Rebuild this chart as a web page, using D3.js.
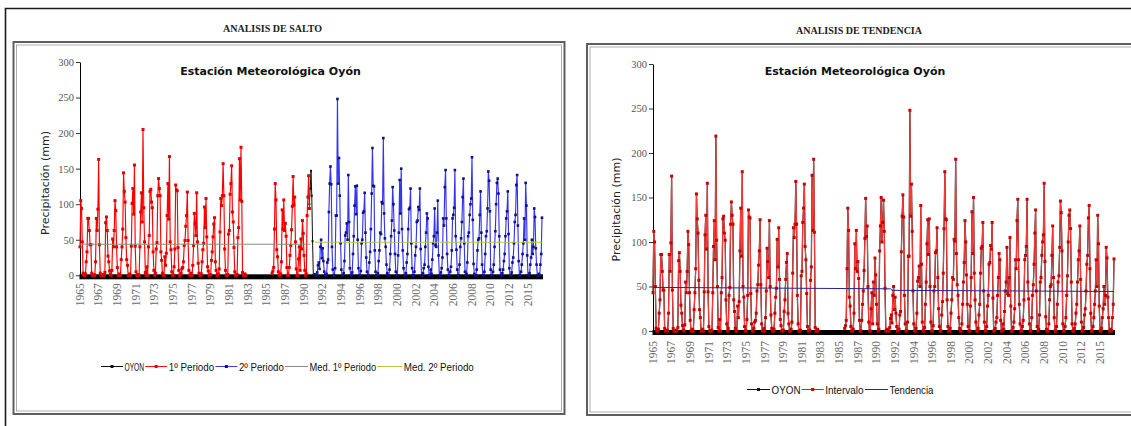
<!DOCTYPE html>
<html>
<head>
<meta charset="utf-8">
<script src="https://cdn.jsdelivr.net/npm/d3@7"></script>
<style>
  body { margin: 0; background: #fff; }
  svg { display: block; }
</style>
</head>
<body>
<svg id="lienzo" width="1131" height="426"></svg>
<script>
// Etiquetas del eje de categorías (una cada 24 registros mensuales)
const etiquetasAnio = ['1965','1967','1969','1971','1973','1975','1977','1979','1981','1983',
  '1985','1987','1990','1992','1994','1996','1998','2000','2002','2004','2006','2008','2010','2012','2015'];
const pasoEtiqueta = 24;
const marcasY = [0, 50, 100, 150, 200, 250, 300];

// Precipitación mensual registrada en la estación Oyón (mm); null = sin registro
const precipitacion = [
  43,112,100,50,3,0,0,2,20,35,86,86,
  67,46,46,3,0,0,1,0,20,86,67,99,
  174,46,3,0,0,0,1,0,4,79,88,67,
  29,20,6,1,0,7,55,43,67,112,97,43,
  12,0,0,2,0,24,43,70,154,126,110,57,
  24,15,0,0,2,0,44,108,130,92,166,44,
  5,0,0,1,0,43,95,124,80,219,102,50,
  4,0,13,0,43,60,126,129,110,102,35,8,
  0,3,40,49,120,145,130,120,35,22,3,0,
  0,28,15,33,90,138,84,179,50,38,5,0,
  0,13,40,136,128,127,42,8,0,0,3,10,
  12,20,45,52,74,90,125,52,8,0,0,3,
  0,15,45,93,78,60,124,50,18,3,0,0,
  2,20,38,48,103,72,116,58,13,6,0,0,
  1,22,35,58,77,87,20,8,0,0,2,10,
  65,116,105,120,168,120,40,8,0,0,1,62,
  67,122,138,165,95,80,42,5,0,0,1,57,
  72,175,113,193,111,4,0,0,2,0,null,null,
  null,null,null,null,null,null,null,null,null,null,null,null,
  null,null,null,null,null,null,null,null,null,null,null,null,
  null,null,null,null,null,null,null,3,6,12,70,138,
  113,38,28,5,0,0,2,20,98,70,113,67,
  78,59,12,0,0,12,30,45,68,104,149,106,
  118,50,10,0,0,25,43,8,55,40,82,63,
  30,8,0,2,90,118,150,100,122,147,112,48,
  0,0,2,0,0,4,14,18,9,40,50,24,
  38,20,5,0,0,2,18,22,89,129,153,128,
  40,8,0,0,10,84,84,248,129,165,112,45,
  8,0,0,3,20,56,60,73,50,141,75,10,
  0,0,4,30,55,98,125,86,126,50,10,0,
  0,6,45,50,88,90,116,60,25,5,0,0,
  18,33,65,115,179,126,125,35,5,0,0,3,
  20,35,60,58,103,101,193,87,52,40,15,3,
  0,0,8,30,55,77,124,100,63,30,5,0,
  0,28,60,134,87,150,65,35,10,0,0,3,
  18,30,65,93,95,122,45,10,0,0,5,28,
  40,75,77,96,92,122,37,0,0,3,10,15,
  40,60,87,80,12,0,0,8,2,22,45,55,
  94,42,40,60,105,28,0,0,4,10,25,80,
  70,124,148,80,30,8,0,0,5,12,35,80,
  85,95,148,55,36,8,0,0,15,40,52,75,
  110,136,45,5,0,2,18,55,60,85,100,108,
  166,78,16,2,0,0,8,35,50,52,85,118,
  60,15,0,0,5,30,55,62,94,146,133,90,
  8,0,0,5,15,40,62,100,130,136,115,55,
  8,0,0,3,8,20,30,55,80,90,118,58,
  10,0,0,4,18,25,45,75,85,127,141,70,
  20,0,0,5,15,30,45,80,50,130,98,28,
  0,0,3,15,25,50,30,40,94,82,38,15,
  0,0,2,0,15,30,81
];

// Primer período corregido por el análisis de salto (mm)
const periodo1Corregido = [
  40,105,94,47,3,0,0,2,19,33,80,80,
  63,43,43,3,0,0,1,0,19,80,63,93,
  163,43,3,0,0,0,1,0,4,74,82,63,
  27,19,6,1,0,7,51,40,63,105,91,40,
  11,0,0,2,0,22,40,65,144,118,103,53,
  22,14,0,0,2,0,41,101,122,86,155,41,
  5,0,0,1,0,40,89,116,75,205,95,47,
  4,0,12,0,40,56,118,121,103,95,33,7,
  0,3,37,46,112,136,122,112,33,21,3,0,
  0,26,14,31,84,129,79,167,47,36,5,0,
  0,12,37,127,120,119,39,7,0,0,3,9,
  11,19,42,49,69,84,117,49,7,0,0,3,
  0,14,42,87,73,56,116,47,17,3,0,0,
  2,19,36,45,96,67,108,54,12,6,0,0,
  1,21,33,54,72,81,19,7,0,0,2,9,
  61,108,98,112,157,112,37,7,0,0,1,58,
  63,114,129,154,89,75,39,5,0,0,1,53,
  67,164,106,180,104,4,0,0,2,0,null,null,
  null,null,null,null,null,null,null,null,null,null,null,null,
  null,null,null,null,null,null,null,null,null,null,null,null,
  null,null,null,null,null,null,null,3,6,11,65,129,
  106,36,26,5,0,0,2,19,92,65,106,63,
  73,55,11,0,0,11,28,42,64,97,139,99,
  110,47,9,0,0,23,40,7,51,37,77,59,
  28,7,0,2,84,110,140,94
];

// Límites de los períodos (índice de registro)
const finPeriodo1 = 295;
const inicioPeriodo2 = 303;

// Medias de cada período (mm)
const mediaPeriodo1 = 43.7;
const mediaPeriodo2 = 46.5;

// Recta de tendencia por tramos: índice de registro y valor (mm)
const tendenciaIndice = [0, 306, 308, 594];
const tendenciaValor = [49.0, 47.4, 45.7, 44.4];

const svg = d3.select('#lienzo');
const N = precipitacion.length;

// ---- marcos de la hoja ----
svg.append('path')
  .attr('d', 'M5.5,426 V8.5 H1131')
  .attr('fill', 'none').attr('stroke', '#1a1a1a').attr('stroke-width', 1.6);

function marcoDoble(x0, y0, x1, y1) {
  svg.append('rect').attr('x', x0).attr('y', y0).attr('width', x1 - x0).attr('height', y1 - y0)
    .attr('fill', 'none').attr('stroke', '#5e5e5e').attr('stroke-width', 2);
  svg.append('rect').attr('x', x0 + 3).attr('y', y0 + 3).attr('width', x1 - x0 - 6).attr('height', y1 - y0 - 6)
    .attr('fill', 'none').attr('stroke', '#9a9a9a').attr('stroke-width', 0.8);
}
marcoDoble(13.5, 42, 564.5, 414);
marcoDoble(587, 44, 1145, 415);

function tituloHoja(texto, cx, cy) {
  svg.append('text').attr('x', cx).attr('y', cy).attr('text-anchor', 'middle')
    .attr('dominant-baseline', 'central')
    .style('font-family', '"Liberation Serif", serif').style('font-weight', 'bold')
    .style('font-size', '10px').style('fill', '#222').text(texto);
}
tituloHoja('ANALISIS DE SALTO', 272.5, 28);
tituloHoja('ANALISIS DE TENDENCIA', 859, 30.5);

// ---- un panel de gráfico ----
function panel(o) {
  const g = svg.append('g');
  const x = d3.scaleLinear().domain([0, N - 1]).range([o.x0, o.x1]);
  const y = d3.scaleLinear().domain([0, 300]).range([o.yBase, o.yTop]);

  // eje de categorías (línea gruesa)
  g.append('rect')
    .attr('x', x(0) - 0.5).attr('y', y(0) - 1)
    .attr('width', x(N - 1) - x(0) + 1.5).attr('height', 5)
    .attr('fill', '#000');

  // eje de valores
  const ay = g.append('g').attr('transform', `translate(${x(0)},0)`)
    .call(d3.axisLeft(y).tickValues(marcasY).tickSize(4).tickSizeOuter(0).tickPadding(2));
  ay.select('.domain').attr('stroke', '#000').attr('stroke-width', 1);
  ay.selectAll('.tick line').attr('stroke', '#333');
  ay.selectAll('.tick text')
    .style('font-family', '"Liberation Serif", serif').style('font-size', '10.5px').style('fill', '#555');

  // etiquetas de años
  g.selectAll('text.anio').data(etiquetasAnio).join('text')
    .attr('class', 'anio')
    .attr('transform', (d, i) => `translate(${x(i * pasoEtiqueta) + 3.8},${y(0) + o.separacion}) rotate(-90)`)
    .attr('text-anchor', 'end')
    .style('font-family', '"Liberation Serif", serif').style('font-size', '11.5px').style('fill', '#6a6a6a')
    .text(d => d);

  // título del eje Y
  g.append('text')
    .attr('transform', `translate(${o.tituloYX},${o.tituloYY}) rotate(-90)`)
    .attr('text-anchor', 'middle').attr('dominant-baseline', 'central')
    .style('font-family', '"DejaVu Sans", sans-serif').style('font-size', '11px').style('fill', '#222')
    .text('Precipitación (mm)');

  // título del gráfico
  g.append('text')
    .attr('x', o.tituloX).attr('y', 71)
    .attr('text-anchor', 'middle').attr('dominant-baseline', 'central')
    .style('font-family', '"DejaVu Sans", sans-serif').style('font-weight', 'bold')
    .style('font-size', '11px').style('fill', '#111')
    .text('Estación Meteorológica Oyón');

  return { g, x, y };
}

function serie(p, inicio, valores, est) {
  const pts = valores.map((v, k) => ({ i: inicio + k, v }));
  const linea = d3.line().defined(d => d.v != null).x(d => p.x(d.i)).y(d => p.y(d.v));
  p.g.append('path').datum(pts).attr('d', linea)
    .attr('fill', 'none').attr('stroke', est.linea).attr('stroke-width', est.ancho || 1)
    .attr('stroke-linejoin', 'round');
  if (est.marca) {
    const s = est.tam;
    p.g.append('g').selectAll('rect').data(pts.filter(d => d.v != null)).join('rect')
      .attr('x', d => p.x(d.i) - s / 2).attr('y', d => p.y(d.v) - s / 2)
      .attr('width', s).attr('height', s).attr('fill', est.marca);
  }
}

function recta(p, indices, valores, color) {
  const pts = indices.map((i, k) => ({ i, v: valores[k] }));
  p.g.append('path').datum(pts)
    .attr('d', d3.line().x(d => p.x(d.i)).y(d => p.y(d.v)))
    .attr('fill', 'none').attr('stroke', color).attr('stroke-width', 1);
}

function leyenda(y, x0, items) {
  let x = x0;
  items.forEach(it => {
    svg.append('line').attr('x1', x).attr('x2', x + it.largo).attr('y1', y).attr('y2', y)
      .attr('stroke', it.color).attr('stroke-width', 1);
    if (it.marca) {
      svg.append('rect').attr('x', x + it.largo / 2 - 1.5).attr('y', y - 1.5)
        .attr('width', 3).attr('height', 3).attr('fill', it.marca);
    }
    x += it.largo + 1.5;
    svg.append('text').attr('x', x).attr('y', y).attr('dominant-baseline', 'central')
      .attr('textLength', it.ancho).attr('lengthAdjust', 'spacingAndGlyphs')
      .style('font-family', '"Liberation Sans", sans-serif').style('font-size', '11px').style('fill', '#111')
      .text(it.texto);
    x += it.ancho + 1.2;
  });
}

// ---- panel izquierdo: análisis de salto ----
const izq = panel({ x0: 80, x1: 542, yBase: 275.3, yTop: 62, separacion: 8,
  tituloYX: 45.5, tituloYY: 183, tituloX: 270.5 });
serie(izq, finPeriodo1, precipitacion.slice(finPeriodo1, inicioPeriodo2 + 2),
  { linea: '#111', marca: '#111', tam: 2 });
serie(izq, 0, periodo1Corregido, { linea: '#ff0000', ancho: 1.15, marca: '#e00000', tam: 3 });
serie(izq, inicioPeriodo2, precipitacion.slice(inicioPeriodo2),
  { linea: '#3535ee', ancho: 1.15, marca: '#10108a', tam: 2.6 });
recta(izq, [0, finPeriodo1 + 1], [mediaPeriodo1, mediaPeriodo1], '#7d917d');
recta(izq, [inicioPeriodo2 - 1, N - 1], [mediaPeriodo2, mediaPeriodo2], '#b4c83c');

leyenda(366.5, 101, [
  { texto: 'OYON', color: '#111', marca: '#111', largo: 22, ancho: 19.5 },
  { texto: '1º Periodo', color: '#ff1010', marca: '#e00000', largo: 22, ancho: 45.5 },
  { texto: '2º Periodo', color: '#3a3af0', marca: '#10108a', largo: 22, ancho: 45 },
  { texto: 'Med. 1º Periodo', color: '#7d917d', largo: 23, ancho: 66.5 },
  { texto: 'Med. 2º Periodo', color: '#b4c83c', largo: 25, ancho: 70 }
]);

// ---- panel derecho: análisis de tendencia ----
const der = panel({ x0: 653, x1: 1114, yBase: 331, yTop: 64, separacion: 10,
  tituloYX: 616, tituloYY: 209.5, tituloX: 855 });
serie(der, 0, precipitacion, { linea: '#222', ancho: 1.3 });
serie(der, 0, precipitacion, { linea: '#ff3838', ancho: 1.05, marca: '#c80000', tam: 3 });
recta(der, tendenciaIndice, tendenciaValor, '#24249a');

leyenda(389.5, 747, [
  { texto: 'OYON', color: '#111', marca: '#111', largo: 23, ancho: 29 },
  { texto: 'Intervalo', color: '#ff1010', marca: '#c80000', largo: 22, ancho: 38.5 },
  { texto: 'Tendencia', color: '#24249a', largo: 23, ancho: 44 }
]);
</script>
</body>
</html>
